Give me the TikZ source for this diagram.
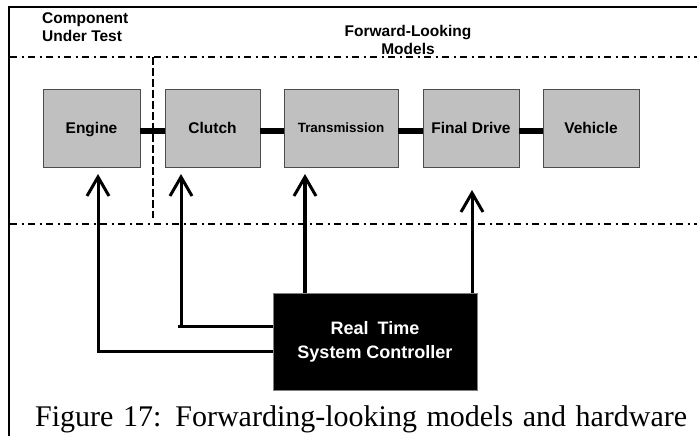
\documentclass[tikz,border=0pt]{standalone}
\usepackage{fontspec}
\setmainfont{Liberation Serif}
\setsansfont{Liberation Sans}
\usetikzlibrary{arrows.meta}
\definecolor{boxgray}{HTML}{C0C0C0}
\begin{document}
\begin{tikzpicture}[x=1pt,y=-1pt,
  frame/.style={line width=1.8pt, line cap=butt},
  dashdot/.style={line width=1.8pt, dash pattern=on 7pt off 4.5pt on 2pt off 4.5pt},
  vdash/.style={line width=2pt, dash pattern=on 8pt off 3pt},
  blk/.style={draw=black!70, line width=0.8pt, fill=boxgray, minimum height=78pt, inner sep=0pt,
    text height=11pt, text depth=0pt,
    font=\sffamily\bfseries\fontsize{15.5}{18}\selectfont},
  bar/.style={line width=6pt},
  arr/.style={line width=3pt, line join=miter, -{Straight Barb[length=19pt,width=22pt,line width=3pt]}},
  hdr/.style={inner sep=0pt, font=\sffamily\bfseries\fontsize{15.5}{18}\selectfont},
  ctrlbox/.style={draw=black!50, line width=0.8pt, fill=black, text=white, inner sep=0pt,
    minimum width=204pt, minimum height=97pt, align=center,
    font=\sffamily\bfseries\fontsize{18}{24}\selectfont}
]
\useasboundingbox (0,0) rectangle (697,436);
% frame and region lines
\draw[frame] (697,7) -- (9,7) -- (9,436);
\draw[dashdot] (10,57) -- (697,57);
\draw[dashdot] (10,224) -- (697,224);
\draw[vdash] (153,57) -- (153,218);
% headers
\node[hdr, anchor=north west, align=left] (hcut) at (42,12.5) {Component\\Under Test};
\node[hdr, anchor=north, align=center] (hfwd) at (408,25) {Forward-Looking\\Models};
% component boxes
\node[blk, minimum width=97pt] (engine) at (91.5,128) {Engine};
\node[blk, minimum width=95pt] (clutch) at (212.5,128) {Clutch};
\node[blk, minimum width=114pt, text height=9.5pt, font=\sffamily\bfseries\fontsize{13.4}{16}\selectfont] (trans) at (341,128) {Transmission};
\node[blk, minimum width=96pt] (final) at (471,128) {Final Drive};
\node[blk, minimum width=96pt] (vehicle) at (591,128) {Vehicle};
% shafts
\draw[bar] ([yshift=-3pt]engine.east) -- ([yshift=-3pt]clutch.west);
\draw[bar] ([yshift=-3pt]clutch.east) -- ([yshift=-3pt]trans.west);
\draw[bar] ([yshift=-3pt]trans.east) -- ([yshift=-3pt]final.west);
\draw[bar] ([yshift=-3pt]final.east) -- ([yshift=-3pt]vehicle.west);
% controller
\node[ctrlbox] (ctrl) at (375,341.5) {Real\hspace{4pt} Time\\System Controller};
% arrow coordinates
\coordinate (eT) at (98,174);
\coordinate (eB) at (98,351);
\coordinate (cT) at (181,174);
\coordinate (cB) at (181,326);
\coordinate (tT) at (305,174);
\coordinate (fT) at (472,190);
% control lines
\draw[arr] (ctrl.west |- eB) -- (eB) -- (eT);
\draw[arr] (ctrl.west |- cB) -- ([xshift=-3pt]cB) (cB) -- (cT);
\draw[arr, line width=3.6pt] (ctrl.north -| tT) -- (tT);
\draw[arr] (ctrl.north -| fT) -- (fT);
% caption
\node[anchor=base west, inner sep=0pt, font=\fontsize{30}{32}\selectfont] (cap) at (35,426)
  {\makebox[652pt][s]{Figure 17: Forwarding-looking models and hardware}};
\end{tikzpicture}
\end{document}
